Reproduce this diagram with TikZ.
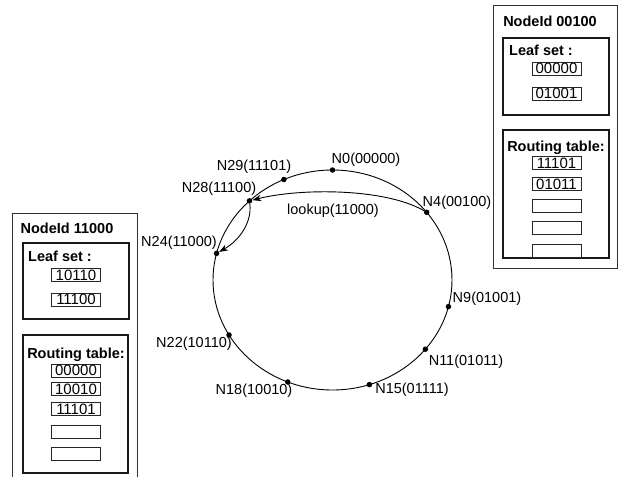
\documentclass[tikz,border=0pt]{standalone}
\usepackage{fontspec}
\setmainfont{Liberation Sans}
\usetikzlibrary{arrows.meta}
\tikzset{
  dot/.style={circle,fill=black,inner sep=0pt,minimum size=5.5pt},
  lbl/.style={inner sep=0pt,font=\fontsize{14.5}{16}\selectfont},
  ttl/.style={inner sep=0pt,font=\bfseries\fontsize{14.5}{16}\selectfont},
  outerbox/.style={draw=black!80,line width=1pt},
  innerbox/.style={draw=black!90,line width=1.4pt},
  entry/.style={draw=black!85,line width=0.8pt,minimum width=49pt,minimum height=13pt,inner sep=0pt,font=\fontsize{15}{16}\selectfont},
  ring/.style={line width=0.9pt},
  arr/.style={line width=0.9pt,-{Stealth[length=9pt,width=6.5pt]}}
}
\begin{document}
\begin{tikzpicture}[x=1pt,y=-1pt]
\useasboundingbox (0,0) rectangle (622,477);
% ring
\draw[ring] (332.5,280) ellipse [x radius=119.5, y radius=110];
\foreach \nm/\ang in {n0/90,n29/114,n28/134,n24/166,n22/210,n18/248,n15/288,n11/321,n9/346,n4/38}{
  \node[dot] (\nm) at ({332.5+119.5*cos(\ang)},{280-110*sin(\ang)}) {};
}
% labels
\node[lbl] (t0) at (366,160) {N0(00000)};
\node[lbl] (t29) at (254,167) {N29(11101)};
\node[lbl] (t28) at (219,189) {N28(11100)};
\node[lbl] (t24) at (179,243) {N24(11000)};
\node[lbl] (t22) at (194,344) {N22(10110)};
\node[lbl] (t18) at (254,391) {N18(10010)};
\node[lbl] (t15) at (412,390) {N15(01111)};
\node[lbl] (t11) at (466,362) {N11(01011)};
\node[lbl] (t9) at (487,299) {N9(01001)};
\node[lbl] (t4) at (457,203) {N4(00100)};
\node[lbl] (tlk) at (333,211) {lookup(11000)};
% arrows
\draw[arr] (n4) .. controls (385,188) and (300,188) .. (n28);
\draw[arr] (n28) .. controls (252,222) and (240,240) .. (n24);
% right box
\node[outerbox,minimum width=124pt,minimum height=263pt,inner sep=0pt] (rbox) at (555,136.5) {};
\node[ttl] (rtitle) at (550,21) {NodeId 00100};
\node[innerbox,minimum width=106pt,minimum height=77pt,inner sep=0pt] (rleaf) at (556,76.5) {};
\node[ttl] (rleaft) at (541,50) {Leaf set :};
\node[entry] (rl1) at (556.5,68.5) {00000};
\node[entry] (rl2) at (556.5,93.5) {01001};
\node[innerbox,minimum width=106pt,minimum height=128pt,inner sep=0pt] (rrout) at (556,194) {};
\node[ttl] (rroutt) at (556,148) {Routing table:};
\node[entry] (rr1) at (556.5,163) {11101};
\node[entry] (rr2) at (556.5,184) {01011};
\node[entry] (rr3) at (556.5,206) {};
\node[entry] (rr4) at (556.5,228) {};
\node[entry] (rr5) at (556.5,250.5) {};
% left box
\coordinate (lb1) at (12,478);
\coordinate (lb2) at (137,213);
\coordinate (lb3) at (137,478);
\draw[outerbox] (lb1) |- (lb2) -- (lb3);
\node[ttl] (ltitle) at (67,228) {NodeId 11000};
\node[innerbox,minimum width=106pt,minimum height=76pt,inner sep=0pt] (lleaf) at (76,281) {};
\node[ttl] (lleaft) at (60,256) {Leaf set :};
\node[entry] (ll1) at (76,275) {10110};
\node[entry] (ll2) at (76,299.5) {11100};
\node[innerbox,minimum width=105pt,minimum height=138pt,inner sep=0pt] (lrout) at (75.5,404) {};
\node[ttl] (lroutt) at (76,355) {Routing table:};
\node[entry] (lr1) at (76,370.5) {00000};
\node[entry] (lr2) at (76,389) {10010};
\node[entry] (lr3) at (76,409) {11101};
\node[entry] (lr4) at (76,431.5) {};
\node[entry] (lr5) at (76,453.5) {};
\end{tikzpicture}
\end{document}
